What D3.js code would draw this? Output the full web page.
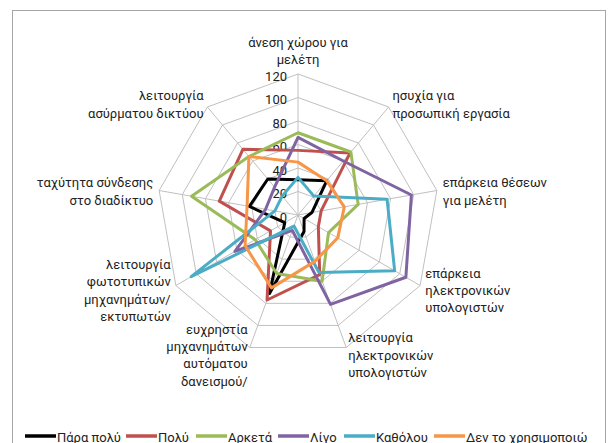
<!DOCTYPE html>
<html>
<head>
<meta charset="utf-8">
<script src="https://cdn.jsdelivr.net/npm/d3@7"></script>
<style>
  body { margin:0; background:#fff; }
  text { font-family: Roboto, "Noto Sans", sans-serif; fill:#222; }
</style>
</head>
<body>
<script>

// axis labels, clockwise from the top
var categories = [
  ["άνεση χώρου για", "μελέτη"],
  ["ησυχία για", "προσωπική εργασία"],
  ["επάρκεια θέσεων", "για μελέτη"],
  ["επάρκεια", "ηλεκτρονικών", "υπολογιστών"],
  ["λειτουργία", "ηλεκτρονικών", "υπολογιστών"],
  ["ευχρηστία", "μηχανημάτων", "αυτόματου", "δανεισμού/"],
  ["λειτουργία", "φωτοτυπικών", "μηχανημάτων/", "εκτυπωτών"],
  ["ταχύτητα σύνδεσης", "στο διαδίκτυο"],
  ["λειτουργία", "ασύρματου δικτύου"]
];

var seriesNames = ["Πάρα πολύ", "Πολύ", "Αρκετά", "Λίγο", "Καθόλου", "Δεν το χρησιμοποιώ"];
var seriesColors = ["#000000", "#C0504D", "#9BBB59", "#8064A2", "#4BACC6", "#F79646"];

var paraPoly   = [30, 38, 12, 6, 15, 71, 13, 42, 40];
var poly       = [55, 69, 20, 20, 54, 77, 27, 68, 73];
var arketa     = [70, 70, 52, 30, 60, 53, 42, 92, 65];
var ligo       = [66, 60, 98, 106, 81, 14, 62, 28, 31];
var katholou   = [32, 21, 77, 95, 52, 10, 105, 20, 21];
var denXrisimo = [45, 38, 40, 39, 42, 66, 52, 44, 65];

var tickValues = [0, 20, 40, 60, 80, 100, 120];

var seriesValues = [paraPoly, poly, arketa, ligo, katholou, denXrisimo];

var width = 616, height = 443;
var cx = 298, cy = 215, R = 141;

var svg = d3.select("body").append("svg")
    .attr("width", width)
    .attr("height", height);

svg.append("rect")
    .attr("x", 12.5).attr("y", 10.5)
    .attr("width", 593).attr("height", 460)
    .attr("fill", "none")
    .attr("stroke", "#a6a6a6");

var rScale = d3.scaleLinear().domain([0, 120]).range([0, R]);
var angle = d3.scaleLinear().domain([0, categories.length]).range([0, 2 * Math.PI]);

var plot = svg.append("g").attr("transform", "translate(" + cx + "," + cy + ")");

var pt = function(i, v) {
  var a = angle(i);
  return [Math.sin(a) * rScale(v), -Math.cos(a) * rScale(v)];
};

// grid rings
plot.selectAll(".ring")
    .data(tickValues.slice(1))
    .enter()
    .append("polygon")
    .attr("points", function(v) {
      return categories.map(function(c, i) { return pt(i, v).join(","); }).join(" ");
    })
    .attr("fill", "none")
    .attr("stroke", "#c0c0c0")
    .attr("stroke-width", 1);

// spokes
plot.selectAll(".spoke")
    .data(categories)
    .enter()
    .append("line")
    .attr("x1", 0).attr("y1", 0)
    .attr("x2", function(d, i) { return pt(i, 120)[0]; })
    .attr("y2", function(d, i) { return pt(i, 120)[1]; })
    .attr("stroke", "#c0c0c0")
    .attr("stroke-width", 1);

// tick labels on the first axis
plot.selectAll(".tick")
    .data(tickValues)
    .enter()
    .append("text")
    .attr("x", -11)
    .attr("y", function(d) { return -rScale(d) + 2; })
    .attr("text-anchor", "end")
    .attr("dominant-baseline", "central")
    .style("font-size", "13px")
    .text(function(d) { return d; });

// series
var line = d3.lineRadial()
    .angle(function(d, i) { return angle(i); })
    .radius(function(d) { return rScale(d); })
    .curve(d3.curveLinearClosed);

plot.selectAll(".series")
    .data(seriesValues)
    .enter()
    .append("path")
    .attr("d", function(d) { return line(d); })
    .attr("fill", "none")
    .attr("stroke", function(d, i) { return seriesColors[i]; })
    .attr("stroke-width", 3)
    .attr("stroke-linejoin", "round");

// category labels
var lineH = 17.3;
var catLabels = plot.selectAll(".cat")
    .data(categories)
    .enter()
    .append("text")
    .style("font-size", "13px")
    .attr("text-anchor", function(d, i) {
      var s = Math.sin(angle(i));
      return s > 0.1 ? "start" : (s < -0.1 ? "end" : "middle");
    })
    .attr("transform", function(d, i) {
      var p = pt(i, 120);
      var a = angle(i);
      var x = p[0] + Math.sin(a) * 6;
      var y = p[1] - Math.cos(a) * 6;
      var n = d.length;
      var top;
      if (Math.cos(a) > 0.9) top = y - n * lineH;
      else top = y + 2 - n * lineH / 2;
      return "translate(" + x + "," + top + ")";
    });

catLabels.selectAll("tspan")
    .data(function(d) { return d; })
    .enter()
    .append("tspan")
    .attr("x", 0)
    .attr("y", function(d, i) { return (i + 0.5) * lineH; })
    .attr("dominant-baseline", "central")
    .text(function(d) { return d; });

// legend
var legendX = [25, 126, 196, 278, 344, 434];
var legend = svg.append("g").attr("transform", "translate(0,436)");
var items = legend.selectAll("g")
    .data(seriesNames)
    .enter()
    .append("g")
    .attr("transform", function(d, i) { return "translate(" + legendX[i] + ",0)"; });

items.append("line")
    .attr("x1", 0).attr("x2", 31)
    .attr("y1", 0).attr("y2", 0)
    .attr("stroke", function(d, i) { return seriesColors[i]; })
    .attr("stroke-width", 3.5);

items.append("text")
    .attr("x", 32)
    .attr("y", 1)
    .attr("dominant-baseline", "central")
    .style("font-size", "13px")
    .text(function(d) { return d; });

</script>
</body>
</html>
